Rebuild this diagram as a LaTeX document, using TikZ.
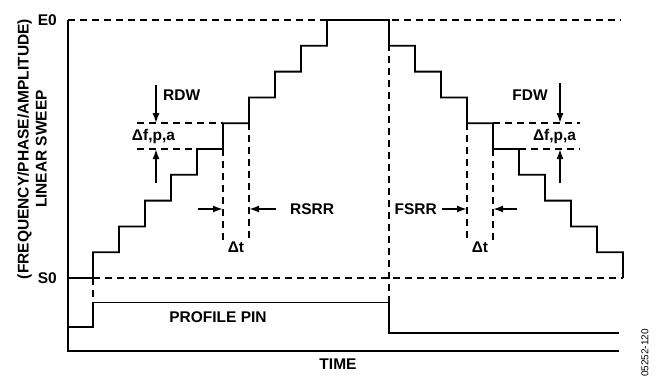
\documentclass[tikz,border=0pt]{standalone}
\usepackage{fontspec}
\setmainfont{Liberation Sans}
\usetikzlibrary{arrows.meta}
\begin{document}
\begin{tikzpicture}[x=1pt,y=1pt,>={Latex[length=10pt,width=7pt]},
    font=\bfseries\fontsize{15.5}{18}\selectfont,
    every node/.style={inner sep=0pt},
    guide/.style={line width=1.5pt,dash pattern=on 7pt off 5pt},
    trace/.style={line width=1.8pt}]
  \useasboundingbox (-68,-25) rectangle (589,351);
  % axes
  \draw[line width=2.6pt] (0,331) -- (0,0) -- (551,0);
  \node (time) at (270,-13) {TIME};
  \node[rotate=90,align=center] (ylab) at (-36,202)
       {(FREQUENCY/PHASE/AMPLITUDE)\\LINEAR SWEEP};
  % end levels
  \draw[guide] (0,331) -- (553,331);
  \draw[guide] (25,73) -- (555,73);
  \node[anchor=east] (e0) at (-11,331) {E0};
  \node[anchor=east] (s0) at (-11,73) {S0};
  % rising and falling sweep
  \draw[trace] (0,73)
       \foreach \k in {0,...,9} { -- ({25+26*\k},{73+25.8*\k}) -- ++(0,25.8) }
       -- (321,331)
       \foreach \k in {0,...,9} { -- ({321+26*\k},{331-25.8*\k}) -- ++(0,-25.8) };
  % profile pin
  \draw[trace] (0,24) -- (25,24) -- (25,48.5) -- (321,48.5) -- (321,18) -- (551,18);
  \draw[guide] (25,73) -- (25,48.5);
  \draw[guide] (321,331) -- (321,48.5);
  \node (pin) at (150,34) {PROFILE PIN};
  % rising step size and rate
  \draw[guide] (69,227.8) -- (155,227.8);
  \draw[guide] (69,202) -- (129,202);
  \draw[guide] (155,202) -- (155,111);
  \draw[guide] (181,227.8) -- (181,111);
  \coordinate (rdwA) at (88,266);
  \coordinate (rdwB) at (88,168);
  \coordinate (rsrrA) at (130,142);
  \coordinate (rsrrB) at (208,142);
  \draw[trace,->] (rdwA) -- (88,227.8);
  \draw[trace,->] (rdwB) -- (88,202);
  \draw[trace,->] (rsrrA) -- (155,142);
  \draw[trace,->] (rsrrB) -- (181,142);
  \node[anchor=west] (rdw) at (95,256) {RDW};
  \node (dfpaL) at (85.5,215) {Δf,p,a};
  \node[anchor=west] (rsrr) at (222,142) {RSRR};
  \node (dtL) at (168,104) {Δt};
  % falling step size and rate
  \draw[guide] (425,227.8) -- (512,227.8);
  \draw[guide] (451,202) -- (512,202);
  \draw[guide] (399,227.8) -- (399,111);
  \draw[guide] (425,202) -- (425,111);
  \coordinate (fdwA) at (492,268);
  \coordinate (fdwB) at (492,168);
  \coordinate (fsrrA) at (374,142);
  \coordinate (fsrrB) at (449,142);
  \draw[trace,->] (fdwA) -- (492,227.8);
  \draw[trace,->] (fdwB) -- (492,202);
  \draw[trace,->] (fsrrA) -- (399,142);
  \draw[trace,->] (fsrrB) -- (425,142);
  \node (fdw) at (462,256) {FDW};
  \node (dfpaR) at (486.5,215) {Δf,p,a};
  \node[anchor=east] (fsrr) at (369,142) {FSRR};
  \node (dtR) at (412,104) {Δt};
  \node[rotate=90,font=\fontsize{10}{12}\selectfont] (figid) at (577,-2) {05252-120};
\end{tikzpicture}
\end{document}
